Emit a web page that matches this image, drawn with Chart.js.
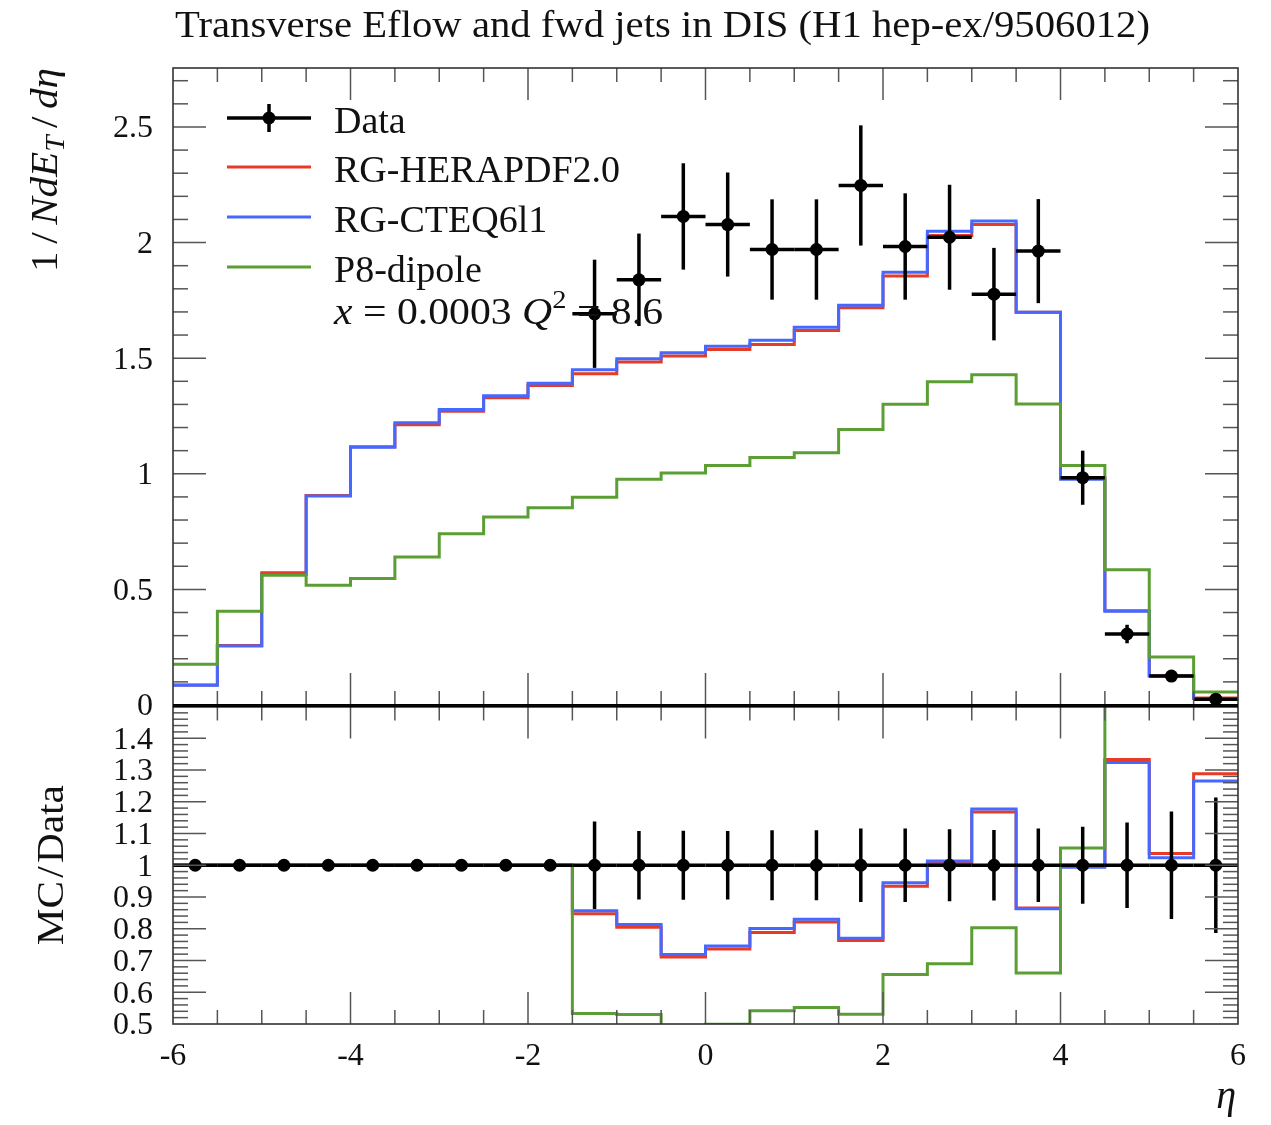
<!DOCTYPE html>
<html>
<head>
<meta charset="utf-8">
<script src="https://cdn.jsdelivr.net/npm/chart.js@4.4.0/dist/chart.umd.min.js"></script>
<style>
  body { margin: 0; background: #fff; }
  #wrap { position: relative; width: 1271px; height: 1125px; }
  canvas { position: absolute; left: 0; }
  #mainCanvas { top: 0; }
  #ratioCanvas { top: 700px; }
</style>
</head>
<body>
<div id="wrap">
  <canvas id="mainCanvas" width="1271" height="720"></canvas>
  <canvas id="ratioCanvas" width="1271" height="425"></canvas>
</div>
<script>
// Binning in eta
const binEdges = [-6, -5.5, -5, -4.5, -4, -3.5, -3, -2.5, -2, -1.5, -1, -0.5, 0, 0.5, 1, 1.5, 2, 2.5, 3, 3.5, 4, 4.5, 5, 5.5, 6];
const binCentres = [-5.75, -5.25, -4.75, -4.25, -3.75, -3.25, -2.75, -2.25, -1.75, -1.25, -0.75, -0.25,
                    0.25, 0.75, 1.25, 1.75, 2.25, 2.75, 3.25, 3.75, 4.25, 4.75, 5.25, 5.75];

// 1/N dE_T/deta
const dataValues = [null, null, null, null, null, null, null, null, null,
                    1.692, 1.839, 2.113, 2.078, 1.970, 1.970, 2.247, 1.983, 2.023, 1.777, 1.963, 0.983, 0.307, 0.125, 0.025];
const dataErrors = [0, 0, 0, 0, 0, 0, 0, 0, 0,
                    0.234, 0.200, 0.230, 0.225, 0.217, 0.217, 0.260, 0.230, 0.227, 0.200, 0.225, 0.117, 0.040, 0.021, 0.005];
const herapdf = [0.087, 0.257, 0.572, 0.906, 1.117, 1.212, 1.270, 1.329, 1.382, 1.433, 1.483, 1.509,
                 1.537, 1.559, 1.620, 1.718, 1.855, 2.031, 2.078, 1.699, 0.983, 0.408, 0.127, 0.030];
const cteq = [0.085, 0.255, 0.564, 0.904, 1.115, 1.221, 1.278, 1.338, 1.392, 1.450, 1.498, 1.524,
              1.552, 1.577, 1.634, 1.729, 1.872, 2.049, 2.093, 1.699, 0.976, 0.406, 0.125, 0.028];
const dipole = [0.176, 0.406, 0.561, 0.518, 0.547, 0.640, 0.741, 0.813, 0.853, 0.899, 0.976, 1.003,
                1.036, 1.070, 1.091, 1.192, 1.301, 1.398, 1.428, 1.302, 1.036, 0.585, 0.208, 0.056];

// MC/Data
const dataRatio = [1, 1, 1, 1, 1, 1, 1, 1, 1, 1, 1, 1, 1, 1, 1, 1, 1, 1, 1, 1, 1, 1, 1, 1];
const dataRatioErrors = [0, 0, 0, 0, 0, 0, 0, 0, 0,
                         0.138, 0.108, 0.109, 0.108, 0.110, 0.110, 0.116, 0.116, 0.113, 0.111, 0.116, 0.121, 0.135, 0.169, 0.213];
const herapdfRatio = [1, 1, 1, 1, 1, 1, 1, 1, 1,
                      0.847, 0.805, 0.711, 0.736, 0.788, 0.821, 0.763, 0.934, 1.007, 1.168, 0.865, 1.000, 1.333, 1.037, 1.288];
const cteqRatio = [1, 1, 1, 1, 1, 1, 1, 1, 1,
                   0.857, 0.813, 0.719, 0.746, 0.801, 0.830, 0.770, 0.945, 1.013, 1.177, 0.863, 0.994, 1.324, 1.024, 1.265];
const dipoleRatio = [1, 1, 1, 1, 1, 1, 1, 1, 1,
                     0.533, 0.530, 0.475, 0.499, 0.542, 0.552, 0.531, 0.656, 0.690, 0.803, 0.661, 1.054, 1.900, 1.660, 2.200];

const seriesNames = ['Data', 'RG-HERAPDF2.0', 'RG-CTEQ6l1', 'P8-dipole'];

// Axis ticks
const xMajorTicks = [-6, -4, -2, 0, 2, 4, 6];
const xTickLabels = ['-6', '-4', '-2', '0', '2', '4', '6'];
const yMajorTicks = [0, 0.5, 1, 1.5, 2, 2.5];
const yTickLabels = ['0', '0.5', '1', '1.5', '2', '2.5'];
const ratioMajorTicks = [0.5, 0.6, 0.7, 0.8, 0.9, 1, 1.1, 1.2, 1.3, 1.4, 1.5];
const ratioTickLabels = ['0.5', '0.6', '0.7', '0.8', '0.9', '1', '1.1', '1.2', '1.3', '1.4', ''];

const RED = '#e63b26';
const BLUE = '#4668ff';
const GREEN = '#5a9e34';
const SERIF = "'Liberation Serif', 'DejaVu Serif', serif";

function histPoints(values) {
    return binEdges.map((x, i) => ({ x: x, y: values[Math.min(i, values.length - 1)] }));
}

function dataPoints(values, errors) {
    const pts = [];
    binCentres.forEach((x, i) => {
        if (values[i] === null) return;
        pts.push({ x: x, y: values[i], ey: errors[i], xlo: binEdges[i], xhi: binEdges[i + 1] });
    });
    return pts;
}

function histDataset(label, values, color, order) {
    return {
        label: label,
        data: histPoints(values),
        showLine: true,
        stepped: true,
        borderColor: color,
        borderWidth: 3,
        pointRadius: 0,
        fill: false,
        clip: 0,
        order: order
    };
}

function dataDataset(values, errors) {
    return {
        label: 'Data',
        data: dataPoints(values, errors),
        showLine: false,
        pointRadius: 6.5,
        pointBackgroundColor: '#000',
        pointBorderWidth: 0,
        errorBars: true,
        order: 0
    };
}

// Draw a sequence of text runs (mixed fonts), optionally squeezed to a width.
// pad adds extra space on both sides of a run (math-style spacing).
function drawRuns(ctx, runs, x, y, fitWidth) {
    let total = 0;
    runs.forEach(r => { ctx.font = r.font; total += ctx.measureText(r.text).width + 2 * (r.pad || 0); });
    const k = fitWidth ? fitWidth / total : 1;
    ctx.save();
    ctx.translate(x, y);
    ctx.scale(k, 1);
    let cx = 0;
    runs.forEach(r => {
        ctx.font = r.font;
        cx += r.pad || 0;
        ctx.fillText(r.text, cx, r.dy || 0);
        cx += ctx.measureText(r.text).width + (r.pad || 0);
    });
    ctx.restore();
}

function line(ctx, x1, y1, x2, y2) {
    ctx.beginPath();
    ctx.moveTo(x1, y1);
    ctx.lineTo(x2, y2);
    ctx.stroke();
}

const errorBars = {
    id: 'errorBars',
    beforeDatasetDraw(chart, args) {
        const ds = chart.data.datasets[args.index];
        if (!ds.errorBars) return;
        const { ctx, chartArea: a, scales: { x, y } } = chart;
        ctx.save();
        ctx.beginPath();
        ctx.rect(a.left, a.top, a.right - a.left, a.bottom - a.top);
        ctx.clip();
        ctx.strokeStyle = '#000';
        ctx.lineWidth = 3.5;
        ds.data.forEach(p => {
            const px = x.getPixelForValue(p.x);
            const py = y.getPixelForValue(p.y);
            line(ctx, x.getPixelForValue(p.xlo), py, x.getPixelForValue(p.xhi), py);
            if (p.ey > 0) {
                line(ctx, px, y.getPixelForValue(p.y - p.ey), px, y.getPixelForValue(p.y + p.ey));
            }
        });
        ctx.restore();
    }
};

// Frame, inward ticks on all four sides and tick labels
const frameTicks = {
    id: 'frameTicks',
    afterDraw(chart, args, opts) {
        const { ctx, chartArea: a, scales: { x, y } } = chart;
        ctx.save();

        ctx.strokeStyle = '#555';
        ctx.lineWidth = 1.5;
        for (let v = -5.5; v < 6; v += 0.5) {
            const px = x.getPixelForValue(v);
            const len = xMajorTicks.includes(v) ? 32 : 14;
            line(ctx, px, a.bottom, px, a.bottom - len);
            line(ctx, px, a.top, px, a.top + len);
        }
        const minorStep = opts.yMinorStep;
        const nMinor = Math.round((y.max - y.min) / minorStep);
        for (let i = 1; i < nMinor + 1; i++) {
            const v = y.min + i * minorStep;
            if (v >= y.max - 1e-9) break;
            const isMajor = opts.yMajor.some(m => Math.abs(m - v) < 1e-6);
            const py = y.getPixelForValue(v);
            const len = isMajor ? 33 : 15;
            line(ctx, a.left, py, a.left + len, py);
            line(ctx, a.right, py, a.right - len, py);
        }

        // frame
        ctx.strokeStyle = '#333';
        ctx.lineWidth = 1.6;
        ctx.strokeRect(a.left, a.top, a.right - a.left, a.bottom - a.top);
        ctx.strokeStyle = '#000';
        ctx.lineWidth = 2;
        line(ctx, a.left, opts.sharedEdge === 'bottom' ? a.bottom : a.top,
             a.right, opts.sharedEdge === 'bottom' ? a.bottom : a.top);

        // y tick labels
        ctx.fillStyle = '#111';
        ctx.font = '32px ' + SERIF;
        ctx.textAlign = 'right';
        ctx.textBaseline = 'middle';
        opts.yMajor.forEach((v, i) => {
            if (!opts.yLabels[i]) return;
            ctx.fillText(opts.yLabels[i], 153, y.getPixelForValue(v) + 2);
        });

        if (opts.drawXLabels) {
            ctx.textAlign = 'center';
            xMajorTicks.forEach((v, i) => {
                ctx.fillText(xTickLabels[i], x.getPixelForValue(v), a.bottom + 33);
            });
        }
        ctx.restore();

        if (opts.decorate) opts.decorate(chart);
    }
};

function decorateMain(chart) {
    const ctx = chart.ctx;
    ctx.save();
    ctx.fillStyle = '#111';
    ctx.textAlign = 'left';
    ctx.textBaseline = 'alphabetic';

    // title
    drawRuns(ctx, [{ text: 'Transverse Eflow and fwd jets in DIS (H1 hep-ex/9506012)', font: '37px ' + SERIF }], 175, 37, 975);

    // y-axis title, rotated
    ctx.save();
    ctx.translate(57, 272);
    ctx.rotate(-Math.PI / 2);
    const up = '38px ' + SERIF, it = 'italic 38px ' + SERIF;
    drawRuns(ctx, [
        { text: '1', font: up }, { text: '/', font: up, pad: 7 },
        { text: 'N', font: it }, { text: 'd', font: it }, { text: 'E', font: it },
        { text: 'T', font: 'italic 27px ' + SERIF, dy: 7 },
        { text: '/', font: up, pad: 7 }, { text: 'd', font: it }, { text: '\u03b7', font: it }
    ], 0, 0, 204);
    ctx.restore();

    // legend
    const lx1 = 227, lx2 = 311, tx = 334;
    const rows = [118, 167, 217, 267];
    const colors = [null, RED, BLUE, GREEN];
    ctx.font = '38px ' + SERIF;
    rows.forEach((ry, i) => {
        if (i === 0) {
            ctx.strokeStyle = '#000';
            ctx.lineWidth = 3.5;
            line(ctx, lx1, ry, lx2, ry);
            line(ctx, 269, ry - 14, 269, ry + 14);
            ctx.fillStyle = '#000';
            ctx.beginPath();
            ctx.arc(269, ry, 6.5, 0, Math.PI * 2);
            ctx.fill();
        } else {
            ctx.strokeStyle = colors[i];
            ctx.lineWidth = 3;
            line(ctx, lx1, ry, lx2, ry);
        }
        ctx.fillStyle = '#111';
        ctx.font = '38px ' + SERIF;
        ctx.fillText(seriesNames[i], tx, ry + 15);
    });
    const f = '38px ' + SERIF, fi = 'italic 38px ' + SERIF;
    drawRuns(ctx, [
        { text: 'x', font: fi }, { text: ' = 0.0003 ', font: f },
        { text: 'Q', font: fi }, { text: '2', font: '26px ' + SERIF, dy: -16 },
        { text: ' = 8.6', font: f }
    ], tx, 324, 329);
    ctx.restore();
}

function decorateRatio(chart) {
    const ctx = chart.ctx;
    const a = chart.chartArea;
    ctx.save();
    ctx.fillStyle = '#111';
    ctx.textBaseline = 'alphabetic';
    // x-axis title
    ctx.font = 'italic 40px ' + SERIF;
    ctx.textAlign = 'right';
    ctx.fillText('\u03b7', 1236, a.bottom + 84);
    // y-axis title
    ctx.textAlign = 'left';
    ctx.save();
    ctx.translate(63, (a.top + a.bottom) / 2 + 80);
    ctx.rotate(-Math.PI / 2);
    drawRuns(ctx, [
        { text: 'MC', font: '38px ' + SERIF }, { text: '/', font: '38px ' + SERIF, pad: 3 },
        { text: 'Data', font: '38px ' + SERIF }
    ], 0, 0, 160);
    ctx.restore();
    ctx.restore();
}

const commonOpts = {
    responsive: false,
    animation: false,
    devicePixelRatio: 1,
    events: [],
    plugins: { legend: { display: false }, tooltip: { enabled: false }, title: { display: false } }
};

new Chart(document.getElementById('mainCanvas'), {
    type: 'scatter',
    data: {
        datasets: [
            dataDataset(dataValues, dataErrors),
            histDataset('P8-dipole', dipole, GREEN, 1),
            histDataset('RG-CTEQ6l1', cteq, BLUE, 2),
            histDataset('RG-HERAPDF2.0', herapdf, RED, 3)
        ]
    },
    options: {
        ...commonOpts,
        layout: { padding: { left: 173, right: 33, top: 68, bottom: 15 } },
        scales: {
            x: { type: 'linear', min: -6, max: 6, display: false },
            y: { type: 'linear', min: 0, max: 2.755, display: false }
        },
        plugins: {
            ...commonOpts.plugins,
            frameTicks: { yMajor: yMajorTicks, yLabels: yTickLabels, yMinorStep: 0.1, drawXLabels: false,
                          sharedEdge: 'bottom', decorate: decorateMain }
        }
    },
    plugins: [errorBars, frameTicks]
});

new Chart(document.getElementById('ratioCanvas'), {
    type: 'scatter',
    data: {
        datasets: [
            dataDataset(dataRatio, dataRatioErrors),
            histDataset('P8-dipole', dipoleRatio, GREEN, 1),
            histDataset('RG-CTEQ6l1', cteqRatio, BLUE, 2),
            histDataset('RG-HERAPDF2.0', herapdfRatio, RED, 3)
        ]
    },
    options: {
        ...commonOpts,
        layout: { padding: { left: 173, right: 33, top: 5, bottom: 101 } },
        scales: {
            x: { type: 'linear', min: -6, max: 6, display: false },
            y: { type: 'linear', min: 0.5, max: 1.5, display: false }
        },
        plugins: {
            ...commonOpts.plugins,
            frameTicks: { yMajor: ratioMajorTicks, yLabels: ratioTickLabels, yMinorStep: 0.02, drawXLabels: true,
                          sharedEdge: 'top', decorate: decorateRatio }
        }
    },
    plugins: [errorBars, frameTicks]
});
</script>
</body>
</html>
